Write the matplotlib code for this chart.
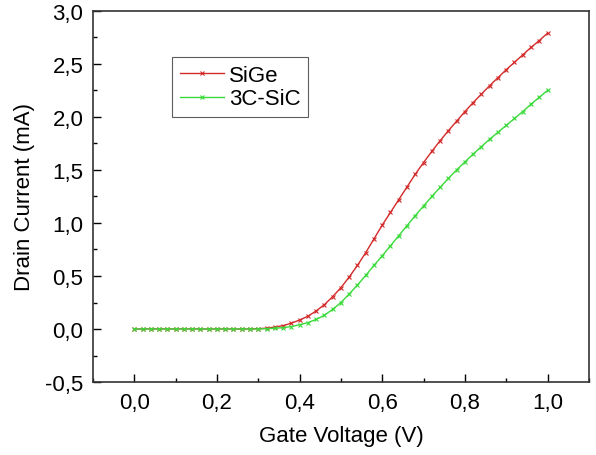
import matplotlib
matplotlib.use("Agg")
import matplotlib.pyplot as plt
from matplotlib.ticker import MultipleLocator, FuncFormatter

plt.rcParams['font.family'] = ['Liberation Sans', 'DejaVu Sans']

gate_voltage = [round(0.02 * i, 2) for i in range(51)]
sige = [0, 0, 0, 0, 0, 0, 0, 0, 0, 0,
        0, 0, 0, 0, 0, 0.003, 0.008, 0.018, 0.032, 0.055,
        0.085, 0.12, 0.17, 0.23, 0.305, 0.39, 0.49, 0.60, 0.72, 0.85,
        0.98, 1.10, 1.22, 1.34, 1.46, 1.57, 1.675, 1.775, 1.87, 1.96,
        2.05, 2.135, 2.215, 2.295, 2.37, 2.445, 2.515, 2.585, 2.655, 2.72,
        2.79]
sic = [0, 0, 0, 0, 0, 0, 0, 0, 0, 0,
       0, 0, 0, 0, 0, 0, 0.003, 0.007, 0.013, 0.023,
       0.04, 0.06, 0.09, 0.13, 0.185, 0.25, 0.33, 0.415, 0.505, 0.60,
       0.69, 0.785, 0.88, 0.975, 1.07, 1.16, 1.25, 1.335, 1.42, 1.50,
       1.575, 1.65, 1.72, 1.79, 1.855, 1.92, 1.985, 2.05, 2.12, 2.185,
       2.25]
labels = ["SiGe", "3C-SiC"]

fig = plt.figure(figsize=(5.96, 4.56), dpi=100)
ax = fig.add_axes([0.156, 0.160, 0.832, 0.814])

ax.plot(gate_voltage, sige, color='#d42a2a', lw=1.0, marker='x', ms=3.5, mew=0.8, label=labels[0])
ax.plot(gate_voltage, sic, color='#3ada3a', lw=1.0, marker='x', ms=3.5, mew=0.8, label=labels[1])

ax.set_xlim(-0.1, 1.1)
ax.set_ylim(-0.5, 3.0)
ax.xaxis.set_major_locator(MultipleLocator(0.2))
ax.xaxis.set_minor_locator(MultipleLocator(0.1))
ax.yaxis.set_major_locator(MultipleLocator(0.5))
ax.yaxis.set_minor_locator(MultipleLocator(0.25))
fmt = FuncFormatter(lambda v, p: f"{v:.1f}".replace('.', ',').replace('-0,0', '0,0'))
ax.xaxis.set_major_formatter(fmt)
ax.yaxis.set_major_formatter(fmt)
ax.tick_params(which='both', direction='in', top=False, right=False, labelsize=16, width=1.0)
ax.tick_params(which='major', length=6)
ax.tick_params(which='minor', length=3)
ax.tick_params(axis='x', pad=7)
ax.tick_params(axis='y', pad=7)
for s in ax.spines.values():
    s.set_linewidth(1.2)
    s.set_color('#333333')

ax.set_xlabel("Gate Voltage (V)", fontsize=16, labelpad=9)
ax.set_ylabel("Drain Current (mA)", fontsize=16, labelpad=7)

leg = ax.legend(loc='upper left', bbox_to_anchor=(172 / 596, 1 - 58 / 456),
                bbox_transform=fig.transFigure, borderaxespad=0,
                fontsize=16, frameon=True,
                fancybox=False, edgecolor='#333333', handlelength=2.0, borderpad=0.35,
                labelspacing=0.12, handletextpad=0.2)
leg.get_frame().set_linewidth(0.8)

fig.savefig("out.png", dpi=100)
